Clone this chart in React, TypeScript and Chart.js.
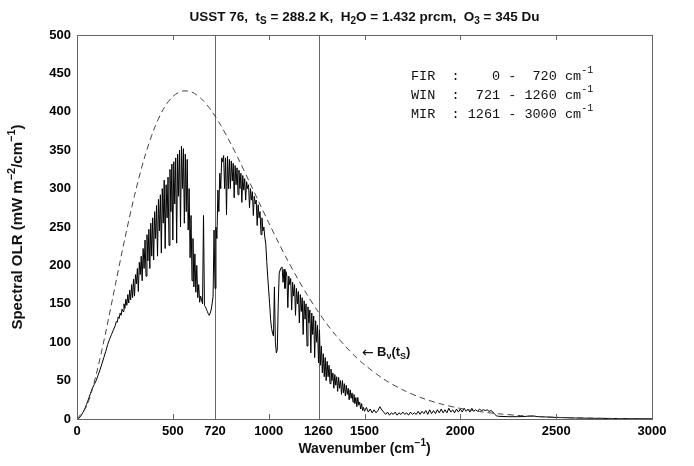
import { useEffect, useRef } from 'react';
import { Chart, registerables } from 'chart.js';

Chart.register(...registerables);

// Spectral OLR values (mW m-2 / cm-1)
// 0 .. 190 cm-1, every 10 cm-1
const lowStep = 10;
const lowValues = [0, 1, 4, 8, 13, 19, 26, 33, 40, 45, 50, 57, 64, 72, 80, 88, 97, 104, 110, 116];
// 200 .. 1495 cm-1, every 5 cm-1
const denseStart = 200;
const denseStep = 5;
const denseValues = [
  122, 127, 126, 133, 131, 138, 135, 143, 140, 150, 144, 156, 148, 162, 151, 168, 155, 175, 158, 182,
  160, 188, 176, 196, 166, 204, 188, 212, 180, 222, 196, 233, 186, 240, 206, 247, 196, 255, 212, 262,
  207, 270, 235, 278, 212, 286, 245, 292, 216, 300, 255, 311, 222, 305, 262, 315, 226, 325, 270, 332,
  233, 335, 280, 340, 229, 345, 290, 350, 250, 355, 300, 352, 255, 345, 270, 338, 246, 300, 210, 265,
  180, 235, 172, 215, 165, 200, 158, 175, 152, 160, 155, 150, 265, 148, 146, 143, 140, 137, 135, 138,
  142, 150, 160, 246, 170, 250, 235, 298, 270, 320, 300, 340, 335, 343, 300, 340, 266, 342, 300, 338,
  300, 336, 310, 333, 288, 330, 305, 327, 292, 324, 300, 320, 282, 317, 298, 313, 285, 309, 300, 305,
  275, 300, 285, 296, 265, 290, 280, 285, 252, 279, 262, 270, 240, 262, 245, 250, 236, 228, 205, 185,
  168, 150, 130, 118, 112, 108, 172, 100, 86, 90, 150, 190, 194, 197, 198, 178, 195, 170, 192, 186,
  145, 186, 175, 183, 142, 178, 160, 175, 135, 170, 150, 166, 125, 162, 140, 158, 110, 154, 130, 150,
  95, 146, 125, 142, 86, 138, 110, 134, 80, 128, 100, 122, 73, 116, 70, 95, 60, 85, 55, 80,
  50, 75, 55, 70, 46, 65, 50, 60, 40, 58, 44, 55, 36, 54, 40, 50, 32, 50, 34, 46,
  30, 44, 32, 40, 25, 38, 27, 34, 22, 32, 20, 28, 16, 28, 18, 22, 13, 20, 11, 15,
];
// 1500 .. 2190 cm-1, every 10 cm-1
const sparseStart = 1500;
const sparseStep = 10;
const sparseValues = [
  10, 15, 9, 13, 8, 12, 8, 11, 16, 12,
  9, 6, 9, 5, 8, 6, 9, 5, 8, 6,
  9, 6, 8, 5, 9, 6, 8, 6, 10, 6,
  10, 7, 11, 6, 12, 7, 11, 7, 12, 8,
  13, 8, 12, 8, 14, 9, 12, 8, 13, 9,
  13, 9, 14, 10, 13, 9, 14, 10, 12, 10,
  13, 11, 12, 11, 12, 10, 11, 9, 6, 4,
];
const tailWn = [2200, 2250, 2300, 2350, 2380, 2400, 2450, 2500, 2600, 2700, 2800, 2900, 3000];
const tailVal = [3.5, 3, 3, 3.5, 4, 3.2, 2.6, 2, 1.3, 0.9, 0.6, 0.4, 0.3];

// Dashed blackbody curve B_v(t_S)
const planckWn = [0, 50, 100, 150, 200, 250, 300, 350, 400, 450, 500, 550, 600, 650, 700, 750, 800, 850, 900, 950,
  1000, 1050, 1100, 1150, 1200, 1250, 1300, 1350, 1400, 1450, 1500, 1600, 1700, 1800, 1900, 2000, 2100, 2200,
  2300, 2400, 2500, 2600, 2700, 2800, 2900, 3000];
const planckVal = [0, 16.5, 57.8, 113.3, 174.6, 235.4, 291.0, 338.5, 376.1, 403.3, 420.0, 427.0, 425.6, 416.7, 401.8,
  382.4, 359.6, 334.7, 308.5, 282.0, 255.8, 230.3, 206.1, 183.3, 162.1, 142.7, 124.9, 109.0, 94.7, 81.9, 70.7,
  52.0, 37.9, 27.3, 19.5, 13.8, 9.7, 6.8, 4.7, 3.2, 2.2, 1.5, 1.0, 0.7, 0.5, 0.3];

const xTickValues = [0, 500, 720, 1000, 1260, 1500, 2000, 2500, 3000];
const xMinorTicks = [500, 1000, 1500, 2000, 2500];
const bandLines = [720, 1260];
const bandLabels = [
  'FIR  :    0 -  720 cm',
  'WIN  :  721 - 1260 cm',
  'MIR  : 1261 - 3000 cm',
];

type Seg = { t: string; s?: 'sub' | 'sup' };

function drawRich(ctx: CanvasRenderingContext2D, segs: Seg[], x: number, y: number, size: number,
  weight: string, family: string, align: 'left' | 'center') {
  const small = Math.round(size * 0.72);
  const fontFor = (s?: string) => `${weight} ${s ? small : size}px ${family}`;
  let total = 0;
  const widths = segs.map((sg) => {
    ctx.font = fontFor(sg.s);
    const w = ctx.measureText(sg.t).width;
    total += w;
    return w;
  });
  let cx = align === 'center' ? x - total / 2 : x;
  ctx.textBaseline = 'middle';
  ctx.textAlign = 'left';
  segs.forEach((sg, i) => {
    ctx.font = fontFor(sg.s);
    const dy = sg.s === 'sub' ? size * 0.35 : sg.s === 'sup' ? -size * 0.4 : 0;
    ctx.fillText(sg.t, cx, y + dy);
    cx += widths[i];
  });
}

const SANS = '"Liberation Sans", Arial, sans-serif';

const decor = {
  id: 'decor',
  beforeDatasetsDraw(chart: any) {
    const { ctx, chartArea: a, scales } = chart;
    const xs = scales.x;
    ctx.save();
    ctx.strokeStyle = '#666';
    ctx.lineWidth = 1;
    bandLines.forEach((v) => {
      const px = Math.round(xs.getPixelForValue(v)) + 0.5;
      ctx.beginPath();
      ctx.moveTo(px, a.top);
      ctx.lineTo(px, a.bottom);
      ctx.stroke();
    });
    ctx.restore();
  },
  afterDraw(chart: any) {
    const { ctx, chartArea: a, scales } = chart;
    const xs = scales.x;
    ctx.save();
    ctx.strokeStyle = '#666';
    ctx.lineWidth = 1;
    ctx.strokeRect(Math.round(a.left) + 0.5, Math.round(a.top) + 0.5, Math.round(a.right - a.left), Math.round(a.bottom - a.top));
    xMinorTicks.forEach((v) => {
      const px = Math.round(xs.getPixelForValue(v)) + 0.5;
      ctx.beginPath();
      ctx.moveTo(px, a.bottom);
      ctx.lineTo(px, a.bottom - 5);
      ctx.moveTo(px, a.top);
      ctx.lineTo(px, a.top + 5);
      ctx.stroke();
    });
    ctx.fillStyle = '#111';
    const cx = (a.left + a.right) / 2;
    drawRich(ctx, [
      { t: 'USST 76,  t' }, { t: 'S', s: 'sub' }, { t: ' = 288.2 K,  H' }, { t: '2', s: 'sub' },
      { t: 'O = 1.432 prcm,  O' }, { t: '3', s: 'sub' }, { t: ' = 345 Du' },
    ], cx, 17, 13.5, 'bold', SANS, 'center');
    drawRich(ctx, [{ t: 'Wavenumber (cm' }, { t: '\u22121', s: 'sup' }, { t: ')' }],
      cx, 449, 14, 'bold', SANS, 'center');
    ctx.save();
    ctx.translate(18, (a.top + a.bottom) / 2);
    ctx.rotate(-Math.PI / 2);
    drawRich(ctx, [{ t: 'Spectral OLR (mW m' }, { t: '\u22122', s: 'sup' }, { t: '/cm' }, { t: '\u22121', s: 'sup' }, { t: ')' }],
      0, 0, 15, 'bold', SANS, 'center');
    ctx.restore();
    bandLabels.forEach((txt, i) => {
      drawRich(ctx, [{ t: txt }, { t: '-1', s: 'sup' }], 411, 76 + i * 19, 13.5, 'normal', '"Liberation Mono", monospace', 'left');
    });
    ctx.font = '14px "DejaVu Sans", sans-serif';
    ctx.textBaseline = 'middle';
    ctx.textAlign = 'left';
    ctx.fillText('\u2190', 362, 353);
    drawRich(ctx, [{ t: 'B' }, { t: '\u03bd', s: 'sub' }, { t: '(t' }, { t: 'S', s: 'sub' }, { t: ')' }],
      377, 352, 13, 'bold', SANS, 'left');
    ctx.restore();
  },
};

export default function App() {
  const ref = useRef<HTMLCanvasElement>(null);
  useEffect(() => {
    document.body.style.margin = '0';
    const specData = [
      ...lowValues.map((v, i) => ({ x: i * lowStep, y: v })),
      ...denseValues.map((v, i) => ({ x: denseStart + i * denseStep, y: v })),
      ...sparseValues.map((v, i) => ({ x: sparseStart + i * sparseStep, y: v })),
      ...tailWn.map((w, i) => ({ x: w, y: tailVal[i] })),
    ];
    const planckData = planckWn.map((w, i) => ({ x: w, y: planckVal[i] }));
    const tickFont = { family: SANS, size: 13, weight: 'bold' as const };
    const chart = new Chart(ref.current as HTMLCanvasElement, {
      type: 'line',
      data: {
        datasets: [
          { data: planckData, borderColor: '#444', borderWidth: 1, borderDash: [6, 4], pointRadius: 0, fill: false, tension: 0.3 },
          { data: specData, borderColor: '#000', borderWidth: 1, pointRadius: 0, fill: false },
        ],
      },
      options: {
        responsive: false,
        animation: false,
        layout: { padding: { top: 35, right: 42, left: 0, bottom: 0 } },
        plugins: { legend: { display: false }, tooltip: { enabled: false }, title: { display: false } },
        scales: {
          x: {
            type: 'linear', min: 0, max: 3000,
            afterBuildTicks: (s: any) => { s.ticks = xTickValues.map((v) => ({ value: v })); },
            ticks: { font: tickFont, color: '#000', padding: 5, maxRotation: 0, autoSkip: false, callback: (v: any) => String(v) },
            grid: { display: false, drawTicks: false },
            border: { display: false },
            afterFit: (s: any) => { s.height = 47; },
          },
          y: {
            min: 0, max: 500,
            ticks: { stepSize: 50, font: tickFont, color: '#000', padding: 6, callback: (v: any) => String(v) },
            grid: { display: false, drawTicks: false },
            border: { display: false },
            afterFit: (s: any) => { s.width = 77; },
          },
        },
      },
      plugins: [decor],
    });
    return () => chart.destroy();
  }, []);
  return <canvas ref={ref} width={694} height={466} style={{ display: 'block' }} />;
}
